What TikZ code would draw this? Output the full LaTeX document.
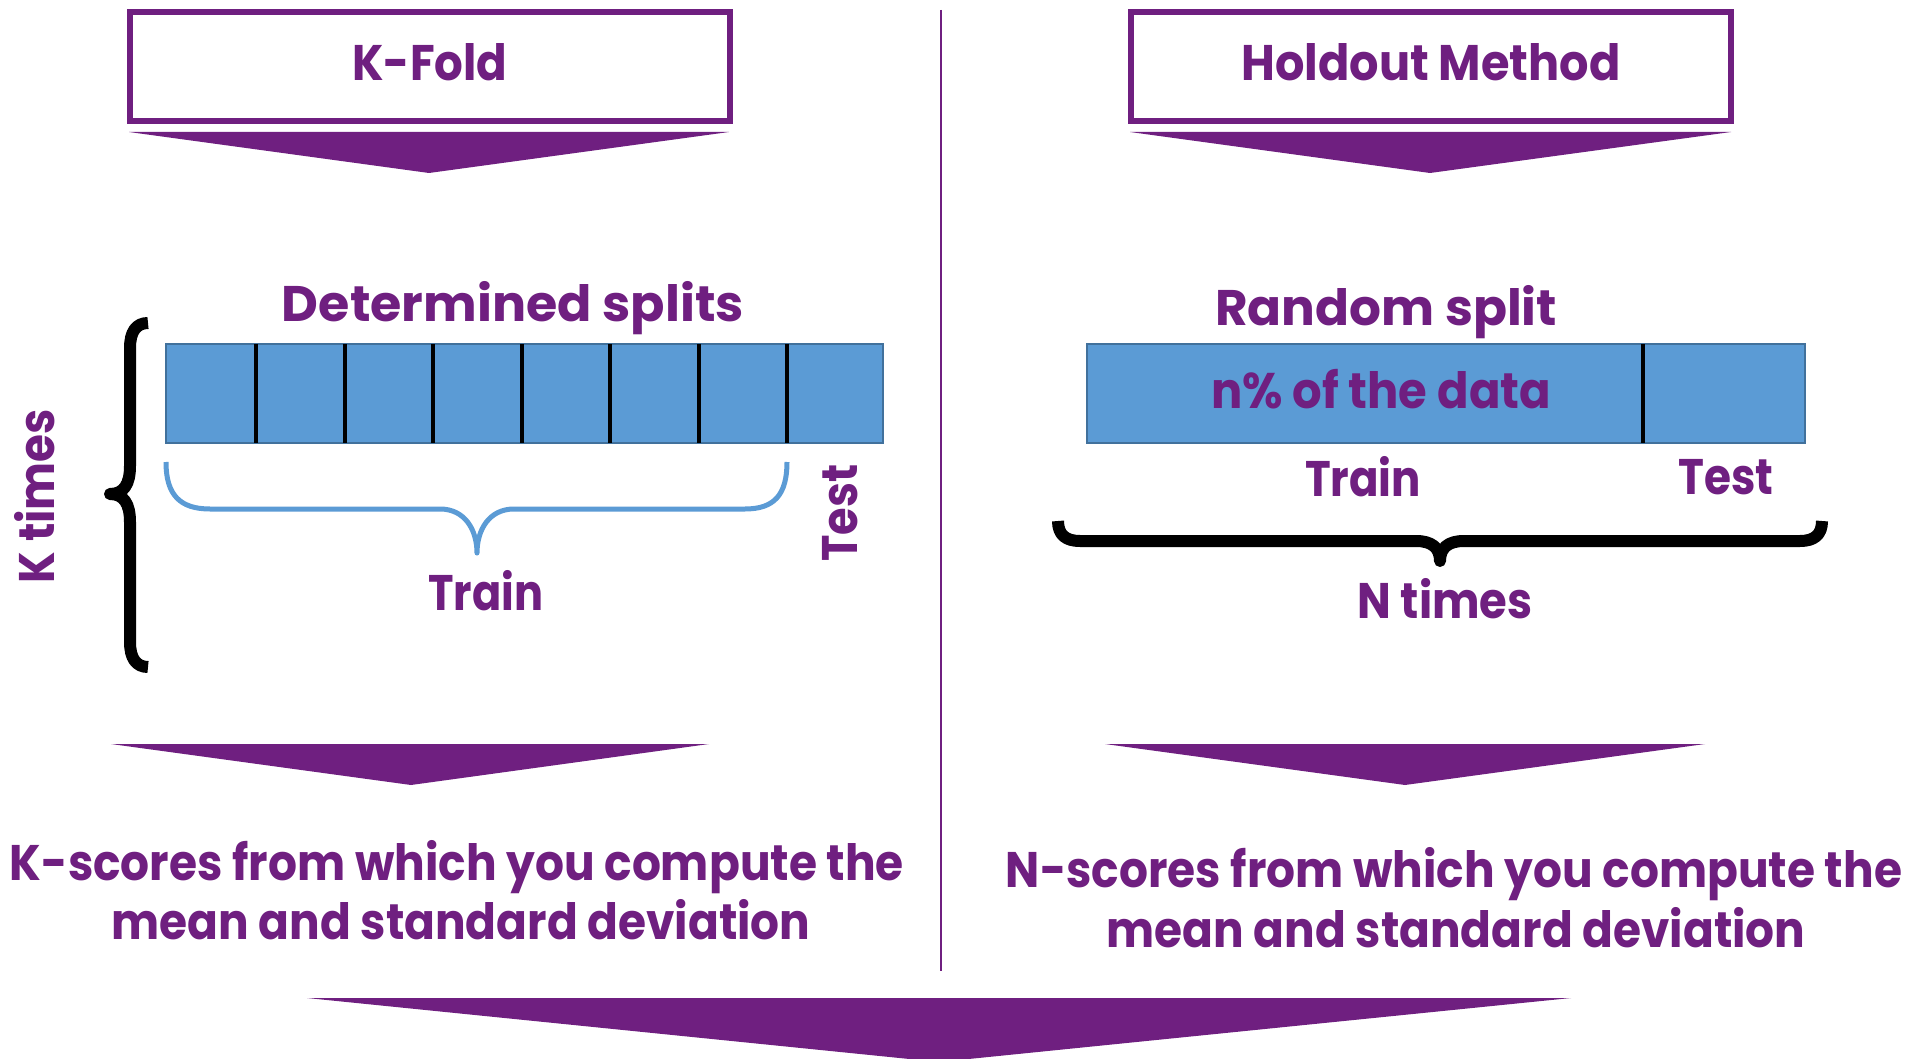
\documentclass[tikz,border=0pt]{standalone}
\usepackage{fontspec}
\setmainfont{Poppins}
\usepackage{graphicx}
\definecolor{kpurple}{RGB}{111,31,128}
\definecolor{kblue}{RGB}{91,155,213}
\definecolor{kbluedark}{RGB}{65,113,156}
\newcommand{\fitw}[2]{\resizebox{#1}{\height}{#2}}
\tikzset{
  txt/.style={inner sep=0pt, anchor=base, text=kpurple, font=\bfseries\fontsize{50}{56}\selectfont},
  titlebox/.style={draw=kpurple, line width=6pt, fill=white},
  chev/.style={fill=kpurple, draw=none},
  bar/.style={fill=kblue, draw=kbluedark, line width=2pt},
  sep/.style={draw=black, line width=4pt},
  bbrace/.style={draw=black, line width=12pt, line join=round},
  lbrace/.style={draw=kblue, line width=5pt, line join=round}
}
\begin{document}
\begin{tikzpicture}[x=1pt, y=-1pt]
\useasboundingbox[fill=white] (0,0) rectangle (1928,1059);

% divider
\coordinate (dtop) at (941,10);
\coordinate (dbot) at (941,971);
\draw[kpurple, line width=2pt] (dtop) -- (dbot);

% title boxes
\draw[titlebox] (130,12) rectangle (730,121);
\node[txt] (kfold) at (430,81) {\fitw{155pt}{K-Fold}};
\draw[titlebox] (1131,12) rectangle (1731,121);
\node[txt] (hold) at (1431,81) {\fitw{379pt}{Holdout Method}};

% chevrons under title boxes
\fill[chev] (129,132) -- (729,132) -- (429,173) -- cycle;
\fill[chev] (1130,132) -- (1731,132) -- (1430,173) -- cycle;

% left: determined splits
\node[txt] (det) at (513,322) {\fitw{462pt}{Determined splits}};
\draw[bar] (166,344) rectangle (883,443);
\foreach \i in {0,...,6}{
  \draw[sep] ({256+\i*88.5},344) -- ({256+\i*88.5},443);
}
\draw[lbrace] (166,462) .. controls (166,495) and (180,509) .. (210,509) -- (440,509)
  .. controls (465,509) and (477,530) .. (477,553)
  .. controls (477,530) and (489,509) .. (514,509) -- (745,509)
  .. controls (774,509) and (787,495) .. (787,462);
\node[txt] (ltrain) at (486,610) {\fitw{115pt}{Train}};
\node[txt, anchor=center, rotate=90] (ltest) at (840,513) {\fitw{97pt}{Test}};

% left black brace
\draw[bbrace] (148,323) .. controls (136,323) and (130,332) .. (130,348) -- (130,466)
  .. controls (130,484) and (124,494) .. (110,494)
  .. controls (124,494) and (130,504) .. (130,522) -- (130,642)
  .. controls (130,658) and (136,667) .. (148,667);
\node[txt, anchor=center, rotate=90] (ktimes) at (35,496) {\fitw{174pt}{K times}};

% right: random split
\node[txt] (rand) at (1386,326) {\fitw{342pt}{Random split}};
\draw[bar] (1087,344) rectangle (1805,443);
\draw[sep] (1643,344) -- (1643,443);
\node[txt] (ndata) at (1381,408) {\fitw{340pt}{n\% of the data}};
\node[txt] (rtrain) at (1363,496) {\fitw{116pt}{Train}};
\node[txt] (rtest) at (1726,494) {\fitw{95pt}{Test}};
\draw[bbrace] (1058,521) .. controls (1058,535) and (1066,541) .. (1080,541) -- (1416,541)
  .. controls (1432,541) and (1440,548) .. (1440,561)
  .. controls (1440,548) and (1448,541) .. (1464,541) -- (1800,541)
  .. controls (1814,541) and (1822,535) .. (1822,521);
\node[txt] (ntimes) at (1445,618) {\fitw{175pt}{N times}};

% lower chevrons
\fill[chev] (111,744) -- (709,744) -- (411,785) -- cycle;
\fill[chev] (1105,744) -- (1705,744) -- (1405,785) -- cycle;

% score texts
\node[txt] (ks1) at (457,880) {\fitw{894pt}{K-scores from which you compute the}};
\node[txt] (ks2) at (461,939) {\fitw{699pt}{mean and standard deviation}};
\node[txt] (ns1) at (1454,887) {\fitw{896pt}{N-scores from which you compute the}};
\node[txt] (ns2) at (1456,947) {\fitw{699pt}{mean and standard deviation}};

% bottom big chevron
\fill[chev] (307,998) -- (1571,998) -- (939,1062) -- cycle;
\end{tikzpicture}
\end{document}
